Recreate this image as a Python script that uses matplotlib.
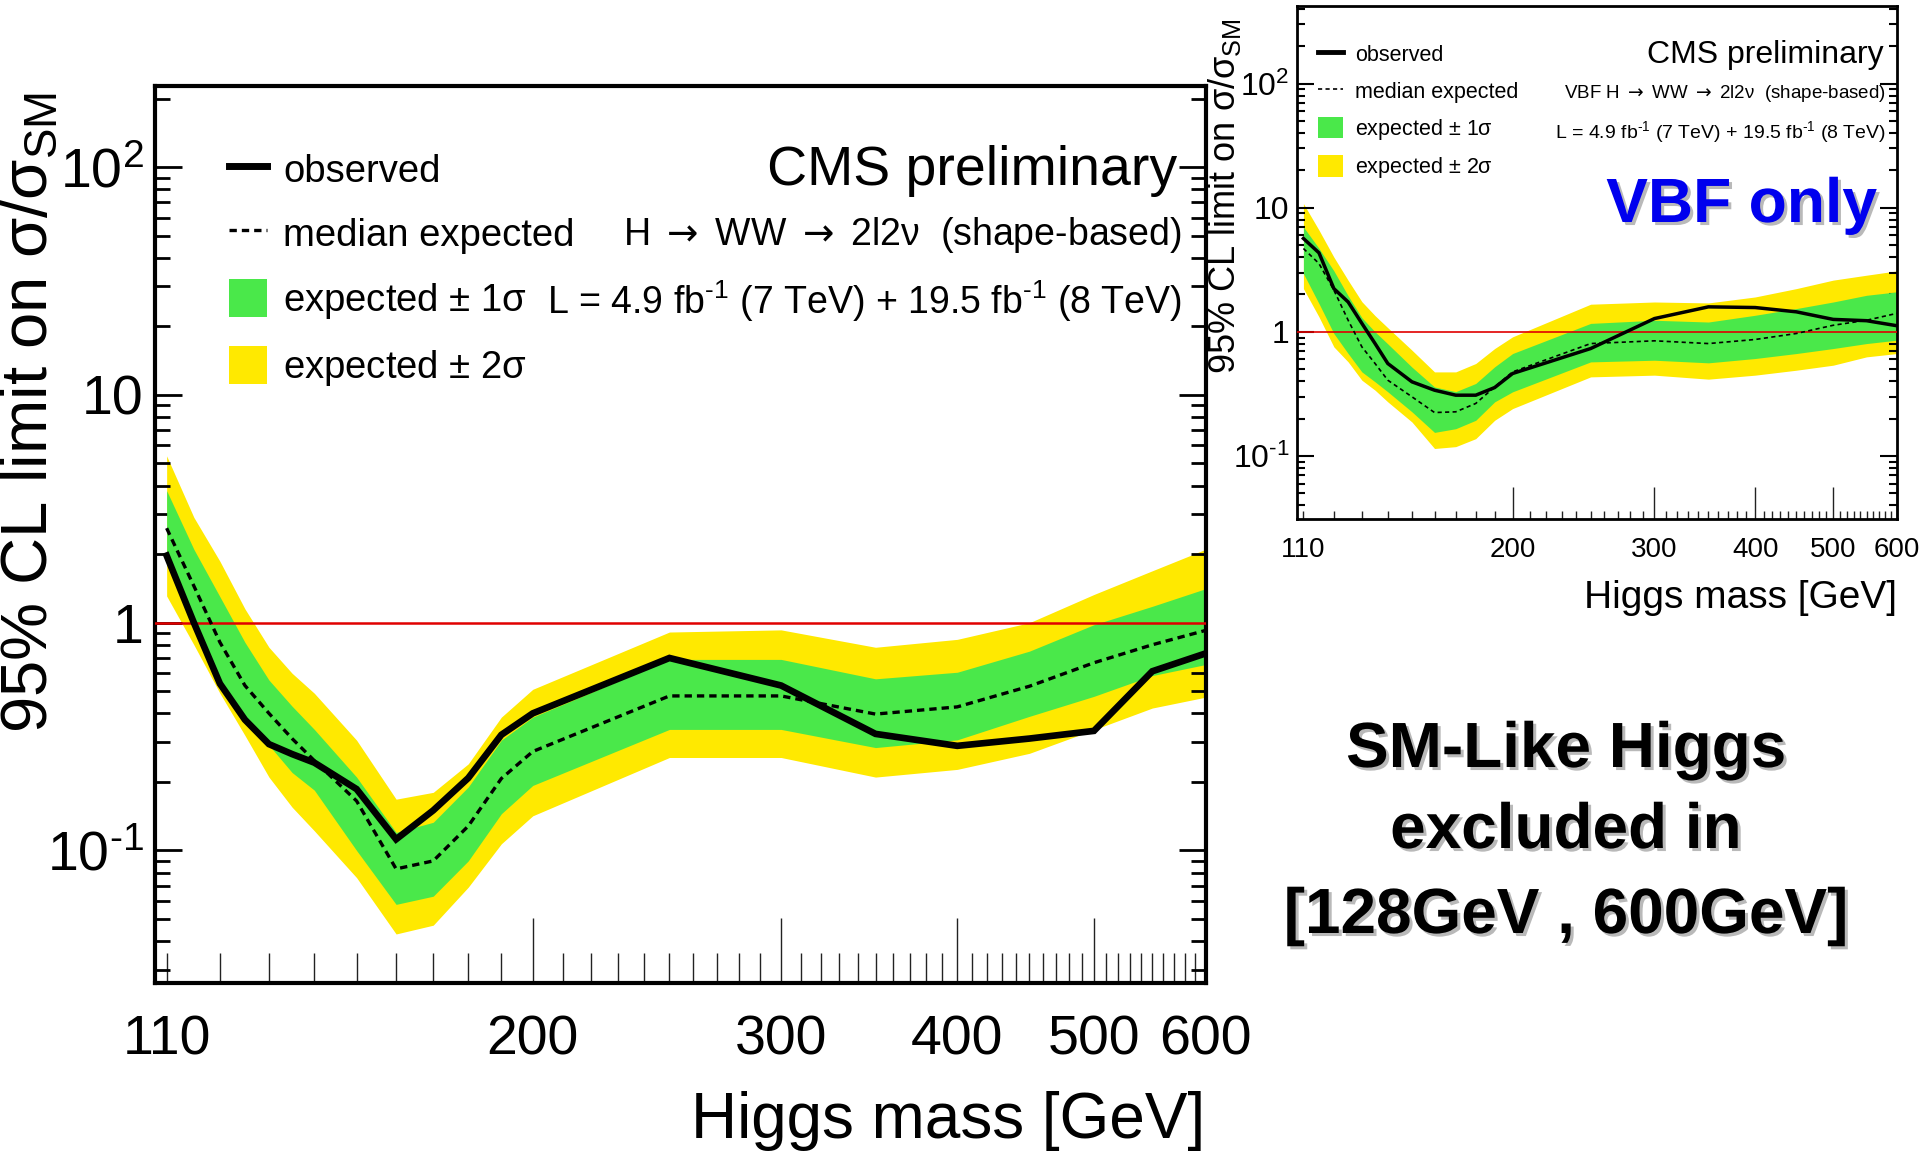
import matplotlib
matplotlib.use("Agg")
import matplotlib.pyplot as plt
import matplotlib.patheffects as pe
from matplotlib.ticker import FixedLocator, FuncFormatter, LogLocator, NullFormatter
from matplotlib.lines import Line2D
from matplotlib.patches import Patch

plt.rcParams['font.family'] = ['Liberation Sans', 'DejaVu Sans']
plt.rcParams['mathtext.fontset'] = 'custom'
plt.rcParams['mathtext.rm'] = 'Liberation Sans'
plt.rcParams['mathtext.it'] = 'Liberation Sans:italic'
plt.rcParams['mathtext.bf'] = 'Liberation Sans:bold'
plt.rcParams['mathtext.sf'] = 'DejaVu Sans'
plt.rcParams['mathtext.default'] = 'regular'

# ---------------------------------------------------------------- data
mass = [110, 115, 120, 125, 130, 135, 140, 150, 160, 170, 180, 190, 200,
        250, 300, 350, 400, 450, 500, 550, 600]

# combined H -> WW -> 2l2nu limits
obs = [1.97, 1.00, 0.54, 0.375, 0.293, 0.265, 0.243, 0.186, 0.112, 0.150,
       0.208, 0.322, 0.40, 0.70, 0.53, 0.325, 0.288, 0.31, 0.335, 0.612, 0.733]
exp_med = [2.6, 1.45, 0.82, 0.53, 0.40, 0.31, 0.248, 0.165, 0.083, 0.090,
           0.128, 0.207, 0.272, 0.477, 0.477, 0.397, 0.427, 0.526, 0.667, 0.80, 0.925]
exp_1s_hi = [3.8, 2.1, 1.3, 0.82, 0.56, 0.43, 0.34, 0.21, 0.12, 0.133,
             0.19, 0.305, 0.385, 0.69, 0.69, 0.567, 0.606, 0.75, 0.98, 1.18, 1.41]
exp_1s_lo = [2.0, 1.0, 0.56, 0.39, 0.29, 0.22, 0.184, 0.10, 0.058, 0.063,
             0.09, 0.145, 0.193, 0.34, 0.34, 0.283, 0.306, 0.388, 0.475, 0.586, 0.655]
exp_2s_hi = [5.4, 2.9, 1.86, 1.15, 0.78, 0.6, 0.49, 0.305, 0.168, 0.18,
             0.24, 0.385, 0.51, 0.91, 0.93, 0.78, 0.845, 1.0, 1.33, 1.69, 2.1]
exp_2s_lo = [1.31, 0.8, 0.49, 0.32, 0.21, 0.155, 0.122, 0.076, 0.043, 0.047,
             0.069, 0.107, 0.142, 0.256, 0.256, 0.21, 0.227, 0.267, 0.339, 0.422, 0.471]

# VBF-only limits
vbf_obs = [5.65, 4.33, 2.23, 1.74, 1.17, 0.805, 0.556, 0.396, 0.339, 0.309,
           0.309, 0.356, 0.462, 0.734, 1.28, 1.59, 1.57, 1.45, 1.26, 1.23, 1.12]
vbf_med = [4.69, 3.55, 2.17, 1.24, 0.757, 0.556, 0.408, 0.30, 0.224, 0.227,
           0.265, 0.36, 0.476, 0.805, 0.847, 0.805, 0.868, 0.97, 1.13, 1.24, 1.41]
vbf_1s_hi = [7.0, 4.7, 3.1, 1.95, 1.3, 1.0, 0.8, 0.52, 0.36, 0.33,
             0.384, 0.523, 0.669, 1.17, 1.24, 1.2, 1.36, 1.54, 1.74, 1.97, 2.1]
vbf_1s_lo = [2.95, 1.69, 0.97, 0.669, 0.476, 0.396, 0.329, 0.227, 0.155, 0.166,
             0.194, 0.273, 0.329, 0.573, 0.591, 0.563, 0.61, 0.669, 0.734, 0.805, 0.857]
vbf_2s_hi = [10.8, 6.6, 4.0, 2.6, 1.75, 1.35, 1.08, 0.712, 0.476, 0.476,
             0.556, 0.734, 0.912, 1.67, 1.74, 1.71, 1.91, 2.23, 2.61, 2.86, 3.1]
vbf_2s_lo = [2.23, 1.32, 0.757, 0.573, 0.408, 0.339, 0.273, 0.188, 0.115, 0.119,
             0.138, 0.194, 0.241, 0.434, 0.448, 0.416, 0.448, 0.491, 0.539, 0.629, 0.669]

x_major = [200, 300, 400, 500, 600]
x_minor = [m for m in range(110, 600, 10) if m % 100 != 0]
HY = '\u2010'  # short hyphen used in the exponents
y_labels = {0.1: '$10^{' + HY + '1}$', 1.0: '1', 10.0: '10', 100.0: '$10^{2}$'}

legend_labels = ['observed', 'median expected', 'expected $\\pm$ 1\u03c3', 'expected $\\pm$ 2\u03c3']
ylabel_text = '95% CL limit on \u03c3/\u03c3${}_{SM}$'
xlabel_text = 'Higgs mass [GeV]'
ARROW = ' $\\mathsf{\\rightarrow}$ '
channel_text = 'H' + ARROW + 'WW' + ARROW + '2l2\u03bd  (shape-based)'
lumi_text = 'L = 4.9 fb$^{' + HY + '1}$ (7 TeV) + 19.5 fb$^{' + HY + '1}$ (8 TeV)'

GREEN = '#4AE84A'
YELLOW = '#FFE900'
RED = '#E00000'

W, H = 1919, 1157


def fx(px):
    return px / W


def fy(py):
    return 1 - py / H


def ylab(v, pos):
    for k, s in y_labels.items():
        if abs(v - k) / k < 1e-6:
            return s
    return ''


def style_axes(ax, ylim, spine_w, tick_size, xmaj_len, xmin_len, ymaj_len, ymin_len,
               ytick_w, xpad, ypad):
    ax.set_xscale('log')
    ax.set_yscale('log')
    ax.set_xlim(108, 600)
    ax.set_ylim(*ylim)
    ax.xaxis.set_major_locator(FixedLocator(x_major))
    ax.xaxis.set_minor_locator(FixedLocator(x_minor))
    ax.xaxis.set_major_formatter(FuncFormatter(lambda v, p: f'{v:.0f}'))
    ax.xaxis.set_minor_formatter(FuncFormatter(lambda v, p: '110' if abs(v - 110) < 0.5 else ''))
    ax.yaxis.set_major_locator(LogLocator(base=10, numticks=20))
    ax.yaxis.set_minor_locator(LogLocator(base=10, subs=range(2, 10), numticks=40))
    ax.yaxis.set_major_formatter(FuncFormatter(ylab))
    ax.yaxis.set_minor_formatter(NullFormatter())
    ax.tick_params(axis='x', which='both', direction='in', bottom=True, top=False,
                   labelsize=tick_size[0], pad=xpad, width=1.0, color='#222222')
    ax.tick_params(axis='x', which='major', length=xmaj_len)
    ax.tick_params(axis='x', which='minor', length=xmin_len)
    ax.tick_params(axis='y', which='both', direction='in', left=True, right=True,
                   labelsize=tick_size[1], pad=ypad, width=ytick_w)
    ax.tick_params(axis='y', which='major', length=ymaj_len)
    ax.tick_params(axis='y', which='minor', length=ymin_len)
    for s in ax.spines.values():
        s.set_linewidth(spine_w)


def draw_limits(ax, o, med, lo1, hi1, lo2, hi2, obs_lw, med_lw, med_dash, red_lw):
    ax.fill_between(mass, lo2, hi2, color=YELLOW, lw=0, zorder=1)
    ax.fill_between(mass, lo1, hi1, color=GREEN, lw=0, zorder=2)
    ax.axhline(1.0, color=RED, lw=red_lw, zorder=3)
    ax.plot(mass, med, color='k', lw=med_lw, ls=(0, med_dash), zorder=4)
    ax.plot(mass, o, color='k', lw=obs_lw, zorder=5, solid_joinstyle='miter')


fig = plt.figure(figsize=(W / 100, H / 100), dpi=100)

# ---------------------------------------------------------------- combined
ax = fig.add_axes([fx(155.4), fy(983), (1205.6 - 155.4) / W, (983 - 86) / H])
draw_limits(ax, obs, exp_med, exp_1s_lo, exp_1s_hi, exp_2s_lo, exp_2s_hi,
            obs_lw=4.8, med_lw=2.4, med_dash=(2.2, 1.5), red_lw=1.8)
style_axes(ax, (0.0262, 227), 3.0, (40, 40), 47, 21.6, 19.4, 10.8, 2.0, 23, 8.5)

ax.set_xlabel(xlabel_text, fontsize=46, ha='right', va='baseline')
ax.xaxis.set_label_coords(1.0, (983 - 1138) / 897)
ax.set_ylabel(ylabel_text, fontsize=47, ha='left', va='baseline', rotation_mode='anchor')
ax.yaxis.set_label_coords((47 - 155.4) / 1050.2, (983 - 733) / 897)

handles = [Line2D([], [], color='k', lw=5.0),
           Line2D([], [], color='k', lw=2.4, ls=(0, (2.2, 1.5))),
           Patch(facecolor=GREEN, edgecolor='none'),
           Patch(facecolor=YELLOW, edgecolor='none')]
ax.legend(handles, legend_labels, loc='upper left', bbox_to_anchor=(0.070, 0.929),
          frameon=False, fontsize=27.5, handlelength=1.0, handleheight=1.15,
          handletextpad=0.42, labelspacing=0.65, borderpad=0, borderaxespad=0)

fig.text(fx(1177), fy(185), 'CMS preliminary', fontsize=40, ha='right', va='baseline')
fig.text(fx(1182), fy(245), channel_text, fontsize=27, ha='right', va='baseline')
fig.text(fx(1182), fy(314), lumi_text, fontsize=27, ha='right', va='baseline')

# ---------------------------------------------------------------- VBF only
axv = fig.add_axes([fx(1297), fy(518.5), (1897 - 1297) / W, (518.5 - 6) / H])
draw_limits(axv, vbf_obs, vbf_med, vbf_1s_lo, vbf_1s_hi, vbf_2s_lo, vbf_2s_hi,
            obs_lw=2.5, med_lw=1.2, med_dash=(2.5, 2.0), red_lw=1.2)
style_axes(axv, (0.0314, 421), 2.0, (20, 23), 23, 5.8, 12, 6, 1.5, 13, 5.5)

axv.set_xlabel(xlabel_text, fontsize=28, ha='right', va='baseline')
axv.xaxis.set_label_coords(1.0, (518.5 - 608) / 512.5)
axv.set_ylabel(ylabel_text, fontsize=26, ha='left', va='baseline', rotation_mode='anchor')
axv.yaxis.set_label_coords((1235 - 1297) / 600, (518.5 - 374) / 512.5)

handles_v = [Line2D([], [], color='k', lw=3.5),
             Line2D([], [], color='k', lw=1.2, ls=(0, (2.5, 2.0))),
             Patch(facecolor=GREEN, edgecolor='none'),
             Patch(facecolor=YELLOW, edgecolor='none')]
axv.legend(handles_v, legend_labels, loc='upper left', bbox_to_anchor=(0.035, 0.928),
           frameon=False, fontsize=15.5, handlelength=1.16, handleheight=1.16,
           handletextpad=0.56, labelspacing=0.64, borderpad=0, borderaxespad=0)

fig.text(fx(1884), fy(63), 'CMS preliminary', fontsize=23, ha='right', va='baseline')
fig.text(fx(1886), fy(98), 'VBF ' + channel_text, fontsize=13.5, ha='right', va='baseline')
fig.text(fx(1886), fy(138), lumi_text, fontsize=14, ha='right', va='baseline')

shadow = [pe.withSimplePatchShadow(offset=(2.2, -2.2), shadow_rgbFace='#808080', alpha=0.55)]
fig.text(fx(1877), fy(222), 'VBF only', fontsize=45, fontweight='bold', color='#0000EE',
         ha='right', va='baseline', path_effects=shadow)

# ---------------------------------------------------------------- summary note
for txt, base in [('SM-Like Higgs', 767), ('excluded in', 848), ('[128GeV , 600GeV]', 933)]:
    fig.text(fx(1566), fy(base), txt, fontsize=46, fontweight='bold', color='black',
             ha='center', va='baseline', path_effects=shadow)

fig.savefig('out.png', dpi=100)
